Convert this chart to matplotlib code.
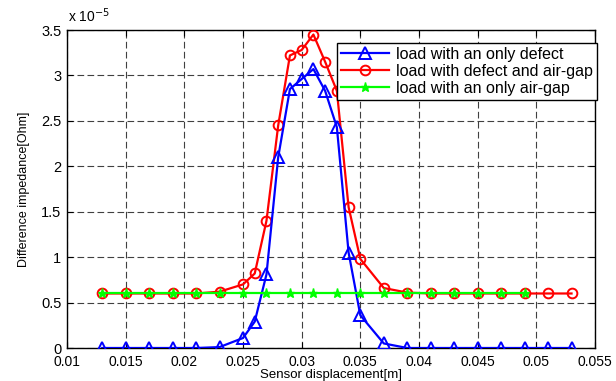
import matplotlib
matplotlib.use("Agg")
import matplotlib.pyplot as plt
from matplotlib.ticker import FuncFormatter
import numpy as np

plt.rcParams['font.family'] = ['Liberation Sans', 'DejaVu Sans']

# Sensor displacement [m]
x_defect = [0.013, 0.015, 0.017, 0.019, 0.021, 0.023, 0.025, 0.026, 0.027, 0.028,
            0.029, 0.030, 0.031, 0.032, 0.033, 0.034, 0.035, 0.037, 0.039, 0.041,
            0.043, 0.045, 0.047, 0.049, 0.051, 0.053]
# Difference impedance in units of 1e-5 Ohm
y_defect = [0.0, 0.0, 0.0, 0.0, 0.0, 0.01, 0.11, 0.29, 0.81, 2.10,
            2.85, 2.96, 3.07, 2.83, 2.43, 1.05, 0.36, 0.05, 0.0, 0.0,
            0.0, 0.0, 0.0, 0.0, 0.0, 0.0]

x_both = x_defect
y_both = [0.60, 0.60, 0.60, 0.60, 0.60, 0.62, 0.70, 0.82, 1.40, 2.45,
          3.22, 3.28, 3.45, 3.15, 2.83, 1.55, 0.98, 0.66, 0.61, 0.60,
          0.60, 0.60, 0.60, 0.60, 0.60, 0.60]

x_airgap = [0.013, 0.015, 0.017, 0.019, 0.021, 0.023, 0.025, 0.027, 0.029, 0.031,
            0.033, 0.035, 0.037, 0.039, 0.041, 0.043, 0.045, 0.047, 0.049]
y_airgap = [0.60] * 19

labels = ['load with an only defect', 'load with defect and air-gap',
          'load with an only air-gap']
xticks = [0.01, 0.015, 0.02, 0.025, 0.03, 0.035, 0.04, 0.045, 0.05, 0.055]
yticks = [0, 0.5, 1, 1.5, 2, 2.5, 3, 3.5]
scale = 1e-5

fig = plt.figure(figsize=(6.16, 3.81), dpi=100)
ax = fig.add_axes([67/616, 33/381, 528/616, 318/381])

ax.plot(x_defect, np.array(y_defect) * scale, color='#0000ff', lw=1.6, marker='^',
        ms=8.5, mfc='none', mec='#0000ff', mew=1.4, label=labels[0], zorder=4)
ax.plot(x_both, np.array(y_both) * scale, color='#ff0000', lw=1.6, marker='o',
        ms=7, mfc='none', mec='#ff0000', mew=1.4, label=labels[1], zorder=3)
ax.plot(x_airgap, np.array(y_airgap) * scale, color='#00ff00', lw=1.6, marker='*',
        ms=6.5, mfc='#00ff00', mec='#00ff00', label=labels[2], zorder=5)

ax.set_xlim(0.01, 0.055)
ax.set_ylim(0, 3.5 * scale)
ax.set_xticks(xticks)
ax.set_yticks([v * scale for v in yticks])
ax.xaxis.set_major_formatter(FuncFormatter(lambda v, p: '%g' % round(v, 4)))
ax.yaxis.set_major_formatter(FuncFormatter(lambda v, p: '%g' % round(v / scale, 3)))
ax.tick_params(direction='in', top=True, right=True, length=4, width=0.8)
ax.tick_params(axis='x', pad=5, labelsize=10)
ax.tick_params(axis='y', pad=4, labelsize=10.5)
ax.grid(True, color='0.25', lw=0.8, linestyle=(0, (6, 3)))
for s in ax.spines.values():
    s.set_linewidth(1.0)

ax.set_xlabel('Sensor displacement[m]', fontsize=9.5, labelpad=0)
ax.set_ylabel('Difference impedance[Ohm]', fontsize=9, labelpad=8)
fig.text(68/616, 1 - 25/381, r'x 10$^{-5}$', fontsize=10, ha='left', va='bottom')

leg = fig.legend(loc='upper left', bbox_to_anchor=(337/616, 1 - 43/381),
                 fontsize=11.5, frameon=True, fancybox=False, edgecolor='black',
                 framealpha=1, handlelength=3.0, labelspacing=0.12,
                 borderpad=0.25, handletextpad=0.45, borderaxespad=0)
leg.get_frame().set_linewidth(1.0)

fig.savefig('out.png', dpi=100)
